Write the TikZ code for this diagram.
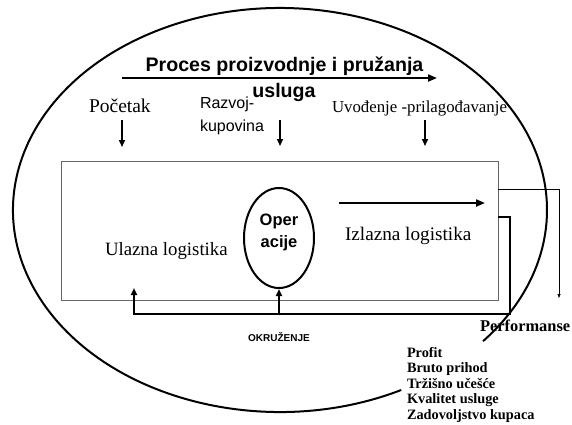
\documentclass[tikz,border=0pt]{standalone}
\usepackage{fontspec}
\setmainfont{Liberation Serif}
\setsansfont{Liberation Sans}
\usetikzlibrary{arrows.meta,shapes.geometric}

\tikzset{
	txt/.style={inner sep=0pt, outer sep=0pt},
	mainarrow/.style={line width=2pt, -{Triangle[length=9pt,width=7pt]}},
	stagearrow/.style={line width=1.5pt, -{Triangle[length=7pt,width=6pt]}},
	loopline/.style={line width=2pt, line join=miter},
	thinarrow/.style={line width=0.6pt, -{Triangle[length=4pt,width=3pt]}},
}

\begin{document}
\begin{tikzpicture}[x=1pt,y=-1pt]
		
		\useasboundingbox (0,0) rectangle (572,424);
		
		\draw[line width=2pt] (280,210) ++(63:267 and 202) arc (63:400.5:267 and 202);
		
		\node[txt, anchor=base, font=\sffamily\bfseries\fontsize{19.6}{23}\selectfont] (proces) at (284.5,71) {Proces proizvodnje i pružanja};
		\node[txt, anchor=base, font=\sffamily\bfseries\fontsize{19.6}{23}\selectfont] (usluga) at (284,97) {usluga};
		\coordinate (procstart) at (122,78);
		\coordinate (procend) at (437,78);
		\draw[mainarrow] (procstart) -- (procend);
		
		\node[txt, anchor=base west, font=\fontsize{19.5}{23}\selectfont] (pocetak) at (89,112) {Početak};
		\coordinate (poc1) at (122,120);
		\coordinate (poc2) at (122,147);
		\draw[stagearrow] (poc1) -- (poc2);
		
		\node[txt, anchor=north west, align=left, font=\sffamily\fontsize{16}{23}\selectfont] (razvoj) at (200,96.5) {Razvoj-\\kupovina};
		\coordinate (raz1) at (280,120);
		\coordinate (raz2) at (280,146);
		\draw[stagearrow] (raz1) -- (raz2);
		
		\node[txt, anchor=base west, font=\fontsize{16.8}{20}\selectfont] (uvodjenje) at (332,112) {Uvođenje -prilagođavanje};
		\coordinate (uvo1) at (425,120);
		\coordinate (uvo2) at (425,146);
		\draw[stagearrow] (uvo1) -- (uvo2);
		
		\node[draw=black!60, line width=0.8pt, minimum width=437pt, minimum height=139pt, inner sep=0pt] (lanac) at (279.5,230.5) {};
		
		\node[draw, line width=2pt, ellipse, minimum width=70pt, minimum height=100pt, inner sep=0pt, text depth=14pt, align=center, font=\sffamily\bfseries\fontsize{16.5}{22}\selectfont] (oper) at (279,238) {Oper\\acije};
		
		\node[txt, anchor=base west, font=\fontsize{18.8}{22}\selectfont] (ulazna) at (105,255) {Ulazna logistika};
		\node[txt, anchor=base west, font=\fontsize{19.2}{22}\selectfont] (izlazna) at (345,240) {Izlazna logistika};
		\coordinate (izl1) at (339,203);
		\coordinate (izl2) at (485,203);
		\draw[mainarrow] (izl1) -- (izl2);
		
		\coordinate (loop1) at (510,217);
		\coordinate (loop2) at (510,314);
		\coordinate (loop3) at (134,314);
		\coordinate (loop4) at (134,288);
		\draw[loopline, -{Triangle[length=7pt,width=6pt]}] (loop1 -| lanac.east) -- (loop1) -- (loop2) -- (loop3) -- (loop4);
		\draw[loopline, -{Triangle[length=7pt,width=6pt]}] (oper |- loop2) -- (oper.south);
		
		\coordinate (perf1) at (559,189);
		\coordinate (perf2) at (559,298);
		\draw[thinarrow] (perf1 -| lanac.east) -- (perf1) -- (perf2);
		
		\node[txt, anchor=base, font=\sffamily\bfseries\fontsize{10}{12}\selectfont] (okruzenje) at (279,341.5) {OKRUŽENJE};
		
		\node[txt, anchor=base west, font=\bfseries\fontsize{16.4}{20}\selectfont] (performanse) at (480,331) {Performanse};
		\node[txt, anchor=north west, align=left, font=\bfseries\fontsize{14.3}{15.6}\selectfont] (mjere) at (407,347) {Profit\\Bruto prihod\\Tržišno učešće\\Kvalitet usluge\\Zadovoljstvo kupaca};
		
	\end{tikzpicture}
\end{document}
